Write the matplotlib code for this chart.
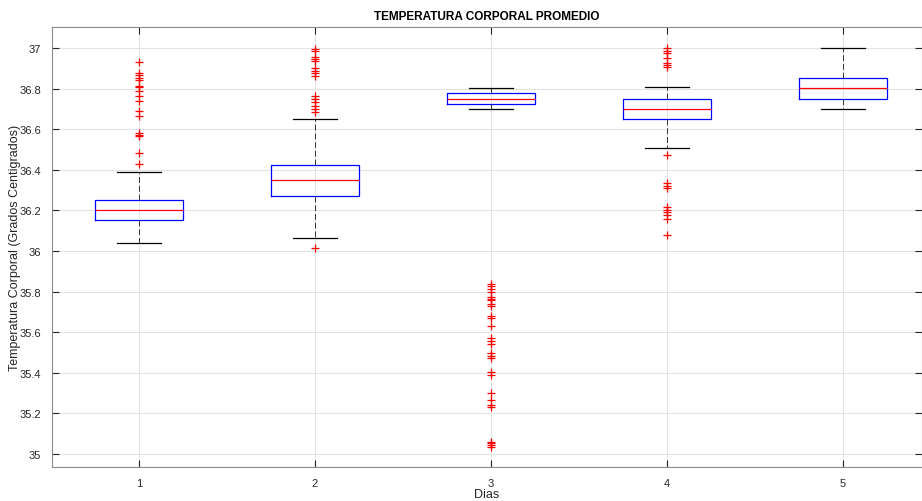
import matplotlib
matplotlib.use("Agg")
import matplotlib.pyplot as plt
from matplotlib.ticker import FormatStrFormatter

plt.rcParams['font.family'] = ['Liberation Sans', 'DejaVu Sans']

dias = [1, 2, 3, 4, 5]
q1 = [36.151, 36.272, 36.724, 36.650, 36.749]
medianas = [36.202, 36.350, 36.750, 36.701, 36.803]
q3 = [36.253, 36.425, 36.777, 36.750, 36.852]
bigote_inf = [36.041, 36.064, 36.701, 36.509, 36.701]
bigote_sup = [36.391, 36.652, 36.803, 36.806, 37.000]

atipicos = [
    [36.933, 36.875, 36.867, 36.850, 36.844, 36.814, 36.806, 36.789, 36.765,
     36.737, 36.690, 36.663, 36.580, 36.573, 36.566, 36.482, 36.427],
    [36.995, 36.987, 36.954, 36.946, 36.938, 36.900, 36.888, 36.875, 36.860,
     36.762, 36.749, 36.732, 36.716, 36.700, 36.686, 36.013],
    [35.837, 35.826, 35.813, 35.796, 35.772, 35.764, 35.759, 35.739, 35.728,
     35.681, 35.668, 35.632, 35.570, 35.558, 35.542, 35.498, 35.484, 35.471,
     35.402, 35.389, 35.300, 35.268, 35.241, 35.230, 35.061, 35.053, 35.044,
     35.036],
    [36.998, 36.987, 36.975, 36.949, 36.926, 36.916, 36.905, 36.474, 36.335,
     36.322, 36.309, 36.215, 36.203, 36.191, 36.177, 36.158, 36.079],
    [],
]

stats = []
for i in range(len(dias)):
    stats.append({
        'q1': q1[i], 'med': medianas[i], 'q3': q3[i],
        'whislo': bigote_inf[i], 'whishi': bigote_sup[i],
        'fliers': atipicos[i], 'label': str(dias[i]),
    })

fig = plt.figure(figsize=(9.22, 5.02), dpi=100)
ax = fig.add_axes([52 / 922, 34 / 502, 870 / 922, 440 / 502])

ax.bxp(stats, positions=dias, widths=0.5, showfliers=True,
       boxprops=dict(color='#0000ff', linewidth=0.9),
       medianprops=dict(color='#ff0000', linewidth=0.9),
       whiskerprops=dict(color='#333333', linewidth=0.7, linestyle=(0, (6, 3))),
       capprops=dict(color='black', linewidth=0.9),
       capwidths=0.25,
       flierprops=dict(marker='+', markeredgecolor='#ff0000', markersize=6,
                       markeredgewidth=0.9, linestyle='none'))

ax.set_xlim(0.506, 5.449)
ax.set_ylim(34.936, 37.103)
ax.set_yticks([35 + 0.2 * k for k in range(11)])
ax.yaxis.set_major_formatter(FormatStrFormatter('%g'))
ax.set_xticks(dias)
ax.set_xticklabels([str(d) for d in dias])

ax.grid(True, color='#e3e3e3', linewidth=0.8)
ax.set_axisbelow(True)
for s in ax.spines.values():
    s.set_color('#8c8c8c')
    s.set_linewidth(0.8)
ax.tick_params(direction='in', top=True, right=True, length=5, width=0.8,
               labelsize=8, colors='#262626', pad=8)

ax.set_title('TEMPERATURA CORPORAL PROMEDIO', fontsize=8.5, fontweight='bold', pad=6)
ax.set_xlabel('Dias', fontsize=9, color='#262626', va='center')
ax.set_ylabel('Temperatura Corporal (Grados Centigrados)', fontsize=9,
              color='#262626', va='center')
ax.xaxis.set_label_coords(0.5, -0.061)
ax.yaxis.set_label_coords(-0.0425, 0.5)

fig.savefig('out.png', dpi=100)
